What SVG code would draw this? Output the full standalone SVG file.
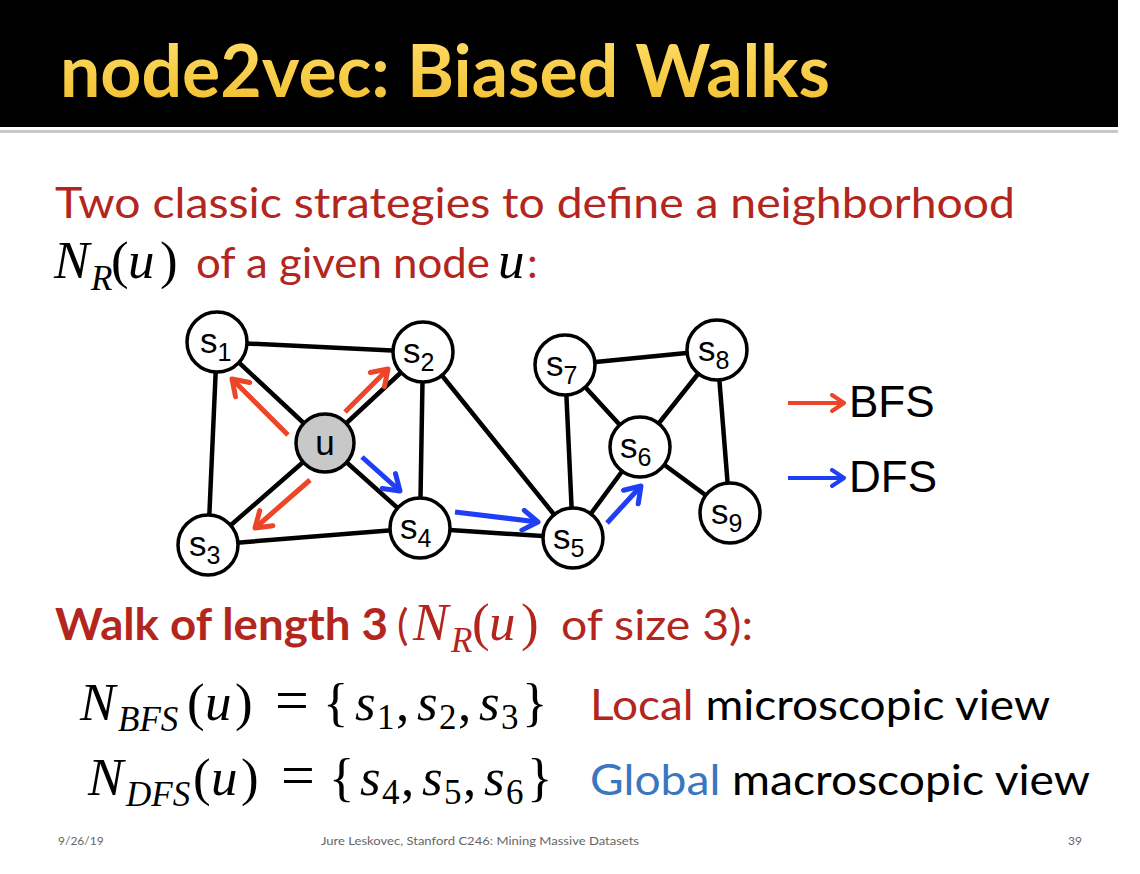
<svg xmlns="http://www.w3.org/2000/svg" width="1140" height="874" viewBox="0 0 1140 874">
<defs>
<linearGradient id="ttl" x1="0" y1="0" x2="0" y2="1">
<stop offset="0" stop-color="#FFE070"/>
<stop offset="1" stop-color="#F2BE2A"/>
</linearGradient>
<marker id="hr" viewBox="0 0 10 10" refX="8" refY="5" markerWidth="5" markerHeight="5" orient="auto" markerUnits="strokeWidth">
<path d="M2,1 L8,5 L2,9" fill="none" stroke="#EC4527" stroke-width="2" stroke-linecap="round" stroke-linejoin="round"/>
</marker>
<marker id="hb" viewBox="0 0 10 10" refX="8" refY="5" markerWidth="5" markerHeight="5" orient="auto" markerUnits="strokeWidth">
<path d="M2,1 L8,5 L2,9" fill="none" stroke="#1E3FF5" stroke-width="2" stroke-linecap="round" stroke-linejoin="round"/>
</marker>
</defs>
<style>
.edge{stroke:#000;stroke-width:4.5;stroke-linecap:round}
.node{fill:#fff;stroke:#000;stroke-width:3.5}
.lbl{font-family:"Liberation Sans",Arial,sans-serif;font-size:35px;fill:#000}
.sub{font-size:25px}
.red{stroke:#EC4527;stroke-width:5;fill:none;marker-end:url(#hr)}
.blue{stroke:#1E3FF5;stroke-width:5;fill:none;marker-end:url(#hb)}
.body{font-family:Lato,"Open Sans",sans-serif;font-size:43px}
.math{font-family:"Liberation Serif","Times New Roman",serif;font-size:53px;fill:#000}
.it{font-style:italic}
.sm{font-size:35px}
.foot{font-family:Lato,"Open Sans",sans-serif;font-size:12px;fill:#666}
</style>
<rect width="1140" height="874" fill="#fff"/>
<rect x="0" y="0" width="1118" height="127" fill="#000"/>
<rect x="0" y="130" width="1118" height="3" fill="#C8C8C8"/>
<text x="60" y="97" font-family="Lato,'Open Sans',sans-serif" font-weight="bold" font-size="72" fill="url(#ttl)" textLength="770" lengthAdjust="spacingAndGlyphs">node2vec: Biased Walks</text>

<text class="body" x="55" y="218" fill="#B3261E" textLength="960" lengthAdjust="spacingAndGlyphs">Two classic strategies to define a neighborhood</text>
<text class="math" y="278"><tspan class="it" x="54">N</tspan><tspan class="it sm" x="91" y="290">R</tspan><tspan x="111" y="278">(</tspan><tspan class="it" x="128">u</tspan><tspan x="160">)</tspan></text>
<text class="body" x="196" y="278" fill="#B3261E" textLength="294" lengthAdjust="spacingAndGlyphs">of a given node</text>
<text class="math it" x="498" y="278">u</text>
<text class="body" x="527" y="278" fill="#B3261E">:</text>

<g id="connectors">
<line class="edge" x1="217" y1="342" x2="423" y2="352"/>
<line class="edge" x1="217" y1="342" x2="325" y2="443"/>
<line class="edge" x1="217" y1="342" x2="208" y2="545"/>
<line class="edge" x1="423" y1="352" x2="325" y2="443"/>
<line class="edge" x1="423" y1="352" x2="420" y2="528"/>
<line class="edge" x1="423" y1="352" x2="573" y2="538"/>
<line class="edge" x1="325" y1="443" x2="208" y2="545"/>
<line class="edge" x1="325" y1="443" x2="420" y2="528"/>
<line class="edge" x1="208" y1="545" x2="420" y2="528"/>
<line class="edge" x1="420" y1="528" x2="573" y2="538"/>
<line class="edge" x1="573" y1="538" x2="565" y2="365"/>
<line class="edge" x1="573" y1="538" x2="640" y2="447"/>
<line class="edge" x1="565" y1="365" x2="640" y2="447"/>
<line class="edge" x1="565" y1="365" x2="717" y2="350"/>
<line class="edge" x1="717" y1="350" x2="640" y2="447"/>
<line class="edge" x1="717" y1="350" x2="730" y2="513"/>
<line class="edge" x1="640" y1="447" x2="730" y2="513"/>
<line class="red" x1="288" y1="435" x2="232" y2="379"/>
<line class="red" x1="345" y1="412" x2="388" y2="369"/>
<line class="red" x1="310" y1="480" x2="255" y2="528"/>
<line class="blue" x1="362" y1="457" x2="400" y2="491"/>
<line class="blue" x1="455" y1="512" x2="538" y2="522"/>
<line class="blue" x1="607" y1="523" x2="641" y2="486"/>
</g>

<g id="s1"><circle class="node" cx="217" cy="342" r="30"/><text class="lbl" x="200" y="353">s<tspan class="sub" dy="8">1</tspan></text></g>
<g id="s2"><circle class="node" cx="423" cy="352" r="30"/><text class="lbl" x="403" y="363">s<tspan class="sub" dy="8">2</tspan></text></g>
<g id="u"><circle class="node" cx="325" cy="443" r="29" style="fill:#C8C8C8"/><text class="lbl" x="325" y="455" text-anchor="middle">u</text></g>
<g id="s3"><circle class="node" cx="208" cy="545" r="30"/><text class="lbl" x="189" y="556">s<tspan class="sub" dy="8">3</tspan></text></g>
<g id="s4"><circle class="node" cx="420" cy="528" r="30"/><text class="lbl" x="400" y="539">s<tspan class="sub" dy="8">4</tspan></text></g>
<g id="s5"><circle class="node" cx="573" cy="538" r="30"/><text class="lbl" x="553" y="549">s<tspan class="sub" dy="8">5</tspan></text></g>
<g id="s6"><circle class="node" cx="640" cy="447" r="30"/><text class="lbl" x="620" y="458">s<tspan class="sub" dy="8">6</tspan></text></g>
<g id="s7"><circle class="node" cx="565" cy="365" r="30"/><text class="lbl" x="546" y="376">s<tspan class="sub" dy="8">7</tspan></text></g>
<g id="s8"><circle class="node" cx="717" cy="350" r="30"/><text class="lbl" x="698" y="361">s<tspan class="sub" dy="8">8</tspan></text></g>
<g id="s9"><circle class="node" cx="730" cy="513" r="30"/><text class="lbl" x="711" y="524">s<tspan class="sub" dy="8">9</tspan></text></g>

<g id="legend">
<line x1="788" y1="403" x2="844" y2="403" stroke="#EC4527" stroke-width="4" marker-end="url(#hr)"/>
<text x="849" y="417" font-family="'Liberation Sans',Arial,sans-serif" font-size="44" fill="#000">BFS</text>
<line x1="788" y1="478" x2="844" y2="478" stroke="#1E3FF5" stroke-width="4" marker-end="url(#hb)"/>
<text x="849" y="492" font-family="'Liberation Sans',Arial,sans-serif" font-size="44" fill="#000">DFS</text>
</g>

<text x="55" y="640" class="body" fill="#B3261E" font-weight="bold" textLength="333" lengthAdjust="spacingAndGlyphs">Walk of length 3</text>
<text x="397" y="640" class="body" fill="#B3261E">(</text>
<text class="math" y="640" style="fill:#B3261E"><tspan class="it" x="413">N</tspan><tspan class="it sm" x="451" y="652">R</tspan><tspan x="472" y="640">(</tspan><tspan class="it" x="489">u</tspan><tspan x="521">)</tspan></text>
<text x="561" y="640" class="body" fill="#B3261E" textLength="192" lengthAdjust="spacingAndGlyphs">of size 3):</text>

<text class="math" y="720"><tspan class="it" x="80">N</tspan><tspan class="it sm" x="118" y="731">BFS</tspan><tspan x="187" y="720">(</tspan><tspan class="it" x="205">u</tspan><tspan x="235">)</tspan><tspan x="275" font-size="60">=</tspan><tspan x="323">{</tspan><tspan class="it" x="355">s</tspan><tspan class="sm" x="377" y="729">1</tspan><tspan x="396" y="720">,</tspan><tspan class="it" x="417">s</tspan><tspan class="sm" x="439" y="729">2</tspan><tspan x="458" y="720">,</tspan><tspan class="it" x="479">s</tspan><tspan class="sm" x="501" y="729">3</tspan><tspan x="522" y="720">}</tspan></text>
<text x="590" y="720" class="body" textLength="460" lengthAdjust="spacingAndGlyphs"><tspan fill="#B3261E">Local</tspan><tspan fill="#000"> microscopic view</tspan></text>

<text class="math" y="795"><tspan class="it" x="88">N</tspan><tspan class="it sm" x="126" y="806">DFS</tspan><tspan x="193" y="795">(</tspan><tspan class="it" x="211">u</tspan><tspan x="241">)</tspan><tspan x="281" font-size="60">=</tspan><tspan x="329">{</tspan><tspan class="it" x="360">s</tspan><tspan class="sm" x="382" y="804">4</tspan><tspan x="401" y="795">,</tspan><tspan class="it" x="422">s</tspan><tspan class="sm" x="444" y="804">5</tspan><tspan x="463" y="795">,</tspan><tspan class="it" x="484">s</tspan><tspan class="sm" x="506" y="804">6</tspan><tspan x="527" y="795">}</tspan></text>
<text x="590" y="795" class="body" textLength="500" lengthAdjust="spacingAndGlyphs"><tspan fill="#3A77C0">Global</tspan><tspan fill="#000"> macroscopic view</tspan></text>

<text class="foot" x="58" y="845">9/26/19</text>
<text class="foot" x="321" y="845" textLength="318" lengthAdjust="spacingAndGlyphs">Jure Leskovec, Stanford C246: Mining Massive Datasets</text>
<text class="foot" x="1082" y="845" text-anchor="end">39</text>
</svg>
